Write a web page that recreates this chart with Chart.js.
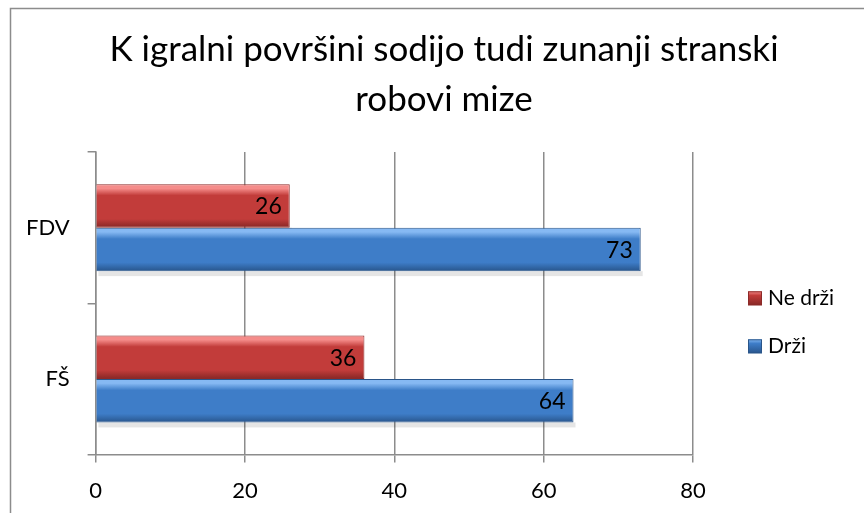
<!DOCTYPE html>
<html>
<head>
<meta charset="utf-8">
<script src="https://cdn.jsdelivr.net/npm/chart.js@4/dist/chart.umd.min.js"></script>
<style>
  html, body { margin: 0; padding: 0; background: #fff; }
  #wrap { position: relative; width: 864px; height: 513px; }
</style>
</head>
<body>
<div id="wrap"><canvas id="surveyChart" width="864" height="513"></canvas></div>
<script>
// Data
const categories = ['FDV', 'FŠ'];
const neDrzi = [26, 36];
const drzi = [73, 64];
const xTicks = [0, 20, 40, 60, 80];
const titleLines = ['K igralni površini sodijo tudi zunanji stranski', 'robovi mize'];

const FONT = "Lato, 'Open Sans', sans-serif";

const palette = [
    { light: '#f58c8a', mid: '#c23c3a', dark: '#862725', border: '#8c2a28' },
    { light: '#86b9f3', mid: '#3e7dc8', dark: '#28558c', border: '#2a5589' }
];

// shaded bar fill like the office 3D bevel look
function barFill(context) {
    const p = palette[context.datasetIndex];
    const el = context.element;
    if (!el || !isFinite(el.y) || !isFinite(el.height) || !el.height) return p.mid;
    const top = el.y - el.height / 2;
    const bottom = el.y + el.height / 2;
    const g = context.chart.ctx.createLinearGradient(0, top, 0, bottom);
    g.addColorStop(0, p.light);
    g.addColorStop(0.1, p.light);
    g.addColorStop(0.26, p.mid);
    g.addColorStop(0.8, p.mid);
    g.addColorStop(1, p.dark);
    return g;
}

const shadowPlugin = {
    id: 'shadow',
    beforeDatasetsDraw(chart) {
        const c = chart.ctx;
        c.save();
        c.fillStyle = 'rgba(0,0,0,0.10)';
        chart.data.datasets.forEach((ds, di) => {
            chart.getDatasetMeta(di).data.forEach(bar => {
                const bottom = bar.y + bar.height / 2;
                c.fillRect(bar.base + 2, bottom, bar.x - bar.base, 5);
            });
        });
        c.restore();
    }
};

const labelPlugin = {
    id: 'barLabels',
    afterDatasetsDraw(chart) {
        const c = chart.ctx;
        c.save();
        c.font = '23px ' + FONT;
        c.fillStyle = '#000';
        c.textAlign = 'right';
        c.textBaseline = 'middle';
        chart.data.datasets.forEach((ds, di) => {
            chart.getDatasetMeta(di).data.forEach((bar, i) => {
                c.fillText(String(ds.data[i]), bar.x - 8, bar.y + 1);
            });
        });
        c.restore();
    }
};

// title centred on the whole frame, not only the plot
const titlePlugin = {
    id: 'frameTitle',
    afterDraw(chart) {
        const c = chart.ctx;
        c.save();
        c.font = '35px ' + FONT;
        c.fillStyle = '#000';
        c.textAlign = 'center';
        c.textBaseline = 'middle';
        titleLines.forEach((line, i) => c.fillText(line, 444, 50 + i * 50));
        c.restore();
    }
};

// legend drawn by hand so it can sit where the original one is
const legendPlugin = {
    id: 'sideLegend',
    afterDraw(chart) {
        const c = chart.ctx;
        const x0 = chart.chartArea.right + 55;
        let y = (chart.chartArea.top + chart.chartArea.bottom) / 2 - 5;
        c.save();
        c.font = '21px ' + FONT;
        c.textBaseline = 'middle';
        c.textAlign = 'left';
        chart.data.datasets.forEach((ds, i) => {
            const p = palette[i];
            const g = c.createLinearGradient(0, y - 7, 0, y + 7);
            g.addColorStop(0, p.light);
            g.addColorStop(0.3, p.mid);
            g.addColorStop(1, p.dark);
            c.fillStyle = g;
            c.fillRect(x0, y - 7, 14, 14);
            c.strokeStyle = p.border;
            c.lineWidth = 1;
            c.strokeRect(x0 + 0.5, y - 6.5, 13, 13);
            c.fillStyle = '#000';
            c.fillText(ds.label, x0 + 20, y);
            y += 48;
        });
        c.restore();
    }
};

const framePlugin = {
    id: 'frame',
    afterDraw(chart) {
        const c = chart.ctx;
        c.save();
        c.strokeStyle = '#8c8c8c';
        c.lineWidth = 1.5;
        c.strokeRect(10.5, 8.5, 900, 600);
        c.restore();
    }
};

const chartData = {
    labels: categories,
    datasets: [
        {
            label: 'Ne drži',
            data: neDrzi,
            backgroundColor: barFill,
            borderColor: palette[0].border,
            borderWidth: 1,
            borderSkipped: 'start'
        },
        {
            label: 'Drži',
            data: drzi,
            backgroundColor: barFill,
            borderColor: palette[1].border,
            borderWidth: 1,
            borderSkipped: 'start'
        }
    ]
};

const chartOptions = {
    indexAxis: 'y',
    responsive: false,
    animation: false,
    categoryPercentage: 0.575,
    barPercentage: 1.0,
    layout: {
        padding: { left: 8, right: 171, top: 152, bottom: -6 }
    },
    plugins: {
        legend: { display: false },
        title: { display: false },
        tooltip: { enabled: false }
    },
    scales: {
        x: {
            min: 0,
            max: 80,
            afterBuildTicks(axis) {
                axis.ticks = xTicks.map(v => ({ value: v }));
            },
            grid: { color: '#8c8c8c', lineWidth: 1.5, tickLength: 8 },
            border: { color: '#8c8c8c', width: 1.5 },
            ticks: { color: '#000', font: { family: FONT, size: 22 }, padding: 15 }
        },
        y: {
            grid: { drawOnChartArea: false, color: '#8c8c8c', lineWidth: 1.5, tickLength: 8, offset: true },
            border: { color: '#8c8c8c', width: 1.5 },
            ticks: { color: '#000', font: { family: FONT, size: 22 }, padding: 18 }
        }
    }
};

const ctx = document.getElementById('surveyChart').getContext('2d');
const surveyChart = new Chart(ctx, {
    type: 'bar',
    data: chartData,
    options: chartOptions,
    plugins: [shadowPlugin, labelPlugin, titlePlugin, legendPlugin, framePlugin]
});
// second pass so the gradients know where the bars are
surveyChart.update('none');
</script>
</body>
</html>
